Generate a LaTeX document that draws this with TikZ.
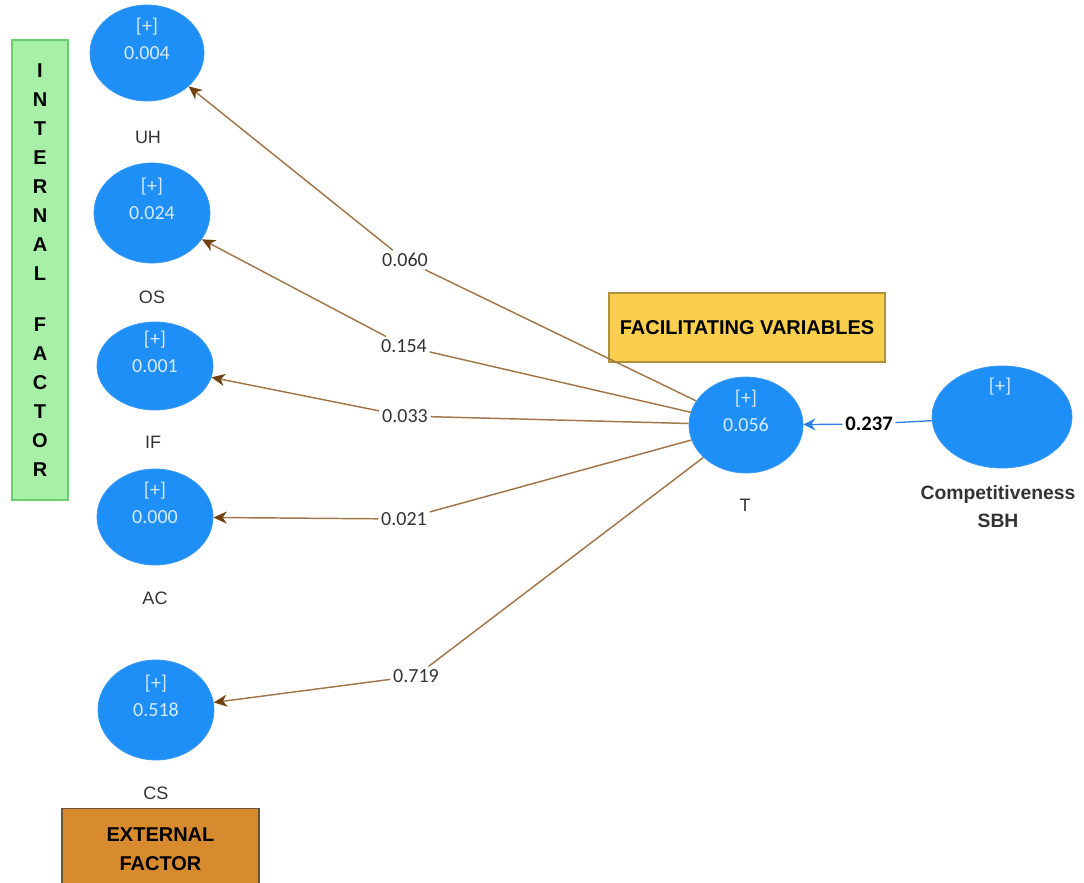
\documentclass[tikz,border=0pt]{standalone}
\usepackage{fontspec}
\setmainfont{Carlito}
\newfontfamily\arialf{Liberation Sans}
\usetikzlibrary{shapes.geometric,arrows.meta}
\definecolor{lvblue}{HTML}{1E8FF7}
\definecolor{lvedge}{HTML}{3A98F5}
\definecolor{lvtext}{HTML}{D6EAFF}
\definecolor{pathbrown}{HTML}{A0764A}
\definecolor{tipbrown}{HTML}{704210}
\definecolor{labgray}{HTML}{333333}
\definecolor{greenfill}{HTML}{A8F0A8}
\definecolor{greenedge}{HTML}{6FCB6F}
\definecolor{yellowfill}{HTML}{FBCF4E}
\definecolor{yellowedge}{HTML}{B0903A}
\definecolor{orangefill}{HTML}{D88A2E}
\definecolor{orangeedge}{HTML}{6E5430}
\definecolor{arrowblue}{HTML}{2F7FE8}
\begin{document}
\begin{tikzpicture}[x=0.75pt,y=-0.75pt,
  lv/.style={ellipse, fill=lvblue, draw=lvedge, line width=0.6pt, inner sep=0pt,
     text=lvtext, font=\fontsize{15}{17}\selectfont},
  plustext/.style={text=lvtext, font=\fontsize{15}{17}\selectfont, inner sep=0pt},
  varname/.style={text=labgray, font=\arialf\fontsize{13.5}{16}\selectfont},
  coef/.style={text=labgray, font=\fontsize{15}{17}\selectfont, inner sep=2pt},
  brownarrow/.style={draw=pathbrown, line width=1.1pt,
     -{Stealth[length=10pt,width=9pt,inset=3pt,color=tipbrown]}},
  bluearrow/.style={draw=arrowblue, line width=1pt,
     -{Stealth[length=9pt,width=9pt,inset=3pt,color=arrowblue]}},
  boxtext/.style={font=\arialf\bfseries\fontsize{15}{21.75}\selectfont, text=black, align=center, inner sep=0pt}
]
\useasboundingbox (0,0) rectangle (1084,882);

% boxes
\node[boxtext, fill=greenfill, draw=greenedge, line width=0.8pt,
      minimum width=42pt, minimum height=345pt] (INT) at (40,270)
  {I\\N\\T\\E\\R\\N\\A\\L\\[16pt]F\\A\\C\\T\\O\\R};
\node[boxtext, fill=yellowfill, draw=yellowedge, line width=0.8pt,
      minimum width=207pt, minimum height=51.75pt] (FAC) at (747,327.5)
  {FACILITATING VARIABLES};
\node[boxtext, fill=orangefill, draw=orangeedge, line width=0.8pt,
      minimum width=147.75pt, minimum height=61pt] (EXT) at (160.5,849.5)
  {EXTERNAL\\FACTOR};

% latent variables
\node[lv, minimum width=85.5pt, minimum height=72pt] (UH) at (147,53) {0.004};
\node[lv, minimum width=87pt, minimum height=75pt] (OS) at (152,213) {0.024};
\node[lv, minimum width=87pt, minimum height=66pt] (IF) at (155,366) {0.001};
\node[lv, minimum width=87pt, minimum height=72pt] (AC) at (155,517) {0.000};
\node[lv, minimum width=87pt, minimum height=75pt] (CS) at (156,710) {0.518};
\node[lv, minimum width=85.5pt, minimum height=72pt] (T) at (746,425) {0.056};
\node[lv, minimum width=105pt, minimum height=76.5pt] (CSBH) at (1002,417) {};

\node[plustext] (UHp) at (147,27) {[+]};
\node[plustext] (OSp) at (152,187) {[+]};
\node[plustext] (IFp) at (155,340) {[+]};
\node[plustext] (ACp) at (155,491) {[+]};
\node[plustext] (CSp) at (156,684) {[+]};
\node[plustext] (Tp) at (746,399) {[+]};
\node[plustext] (CSBHp) at (1000,387) {[+]};

% names
\node[varname] (UHn) at (148,137) {UH};
\node[varname] (OSn) at (152,297) {OS};
\node[varname] (IFn) at (153,442) {IF};
\node[varname] (ACn) at (155,598) {AC};
\node[varname] (CSn) at (156,793) {CS};
\node[varname] (Tn) at (745,505) {T};
\node[font=\arialf\bfseries\fontsize{14.5}{21}\selectfont, text=labgray, align=center]
  (CSBHn) at (998,507) {Competitiveness\\SBH};

% coefficients
\node[coef] (c060) at (405,260) {0.060};
\node[coef] (c154) at (404,346) {0.154};
\node[coef] (c033) at (405,416) {0.033};
\node[coef] (c021) at (404,519) {0.021};
\node[coef] (c719) at (416,676) {0.719};
\node[coef, font=\bfseries\fontsize{15.5}{17}\selectfont, text=black] (c237) at (869,424) {0.237};

% paths
\draw[brownarrow] (T) -- (c060) -- (UH);
\draw[brownarrow] (T) -- (c154) -- (OS);
\draw[brownarrow] (T) -- (c033) -- (IF);
\draw[brownarrow] (T) -- (c021) -- (AC);
\draw[brownarrow] (T) -- (c719) -- (CS);
\draw[bluearrow] (CSBH) -- (c237) -- (T);
\end{tikzpicture}
\end{document}
